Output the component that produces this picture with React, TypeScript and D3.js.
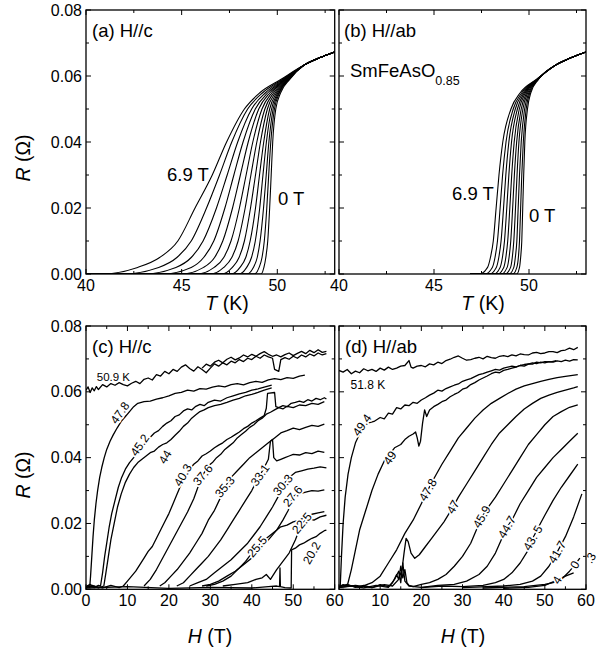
import React from 'react';
import * as d3 from 'd3';

// ---------- data: panels (a),(b)  R(T) curves, T read at fixed R levels ----------
const R_LEVELS = [0, 0.002, 0.005, 0.01, 0.02, 0.03, 0.04, 0.05, 0.055, 0.059];
// H//c, fields 0 T ... 6.9 T ; T (K) at each R level (first value = onset)
const A_T = [
  [49.15, 49.3, 49.4, 49.5, 49.6, 49.68, 49.76, 49.92, 50.18, 50.65],
  [48.8, 49.05, 49.2, 49.32, 49.45, 49.55, 49.66, 49.85, 50.12, 50.62],
  [48.4, 48.75, 48.95, 49.1, 49.28, 49.42, 49.56, 49.78, 50.08, 50.6],
  [48.0, 48.4, 48.65, 48.85, 49.08, 49.25, 49.43, 49.7, 50.03, 50.57],
  [47.6, 48.05, 48.35, 48.58, 48.86, 49.07, 49.29, 49.6, 49.97, 50.55],
  [47.1, 47.65, 48.0, 48.28, 48.6, 48.86, 49.12, 49.48, 49.9, 50.52],
  [46.5, 47.2, 47.62, 47.95, 48.32, 48.62, 48.93, 49.35, 49.82, 50.48],
  [45.8, 46.7, 47.2, 47.58, 48.02, 48.37, 48.72, 49.2, 49.73, 50.45],
  [45.0, 46.15, 46.72, 47.15, 47.66, 48.07, 48.48, 49.03, 49.63, 50.42],
  [44.0, 45.5, 46.15, 46.68, 47.26, 47.73, 48.21, 48.85, 49.52, 50.38],
  [43.0, 44.7, 45.5, 46.12, 46.82, 47.38, 47.93, 48.66, 49.4, 50.33],
  [41.9, 43.8, 44.75, 45.5, 46.3, 46.98, 47.62, 48.45, 49.25, 50.28],
  [40.8, 42.7, 43.85, 44.8, 45.7, 46.6, 47.35, 48.28, 49.1, 50.2],
];
const A_TAIL = [[51.4, 0.0633], [52.2, 0.0655], [53, 0.0673]];
// H//ab
const B_T = [
  [49.35, 49.5, 49.56, 49.62, 49.67, 49.72, 49.78, 49.92, 50.1, 50.5],
  [49.15, 49.36, 49.44, 49.5, 49.56, 49.62, 49.7, 49.85, 50.05, 50.49],
  [48.95, 49.2, 49.28, 49.36, 49.43, 49.5, 49.59, 49.77, 50.0, 50.48],
  [48.75, 49.03, 49.12, 49.2, 49.29, 49.37, 49.47, 49.68, 49.94, 50.47],
  [48.55, 48.85, 48.95, 49.04, 49.14, 49.23, 49.35, 49.59, 49.88, 50.46],
  [48.35, 48.67, 48.78, 48.88, 48.99, 49.09, 49.22, 49.49, 49.82, 50.45],
  [48.15, 48.48, 48.6, 48.71, 48.83, 48.94, 49.08, 49.39, 49.76, 50.44],
  [47.92, 48.28, 48.41, 48.53, 48.66, 48.78, 48.94, 49.28, 49.7, 50.43],
  [47.68, 48.07, 48.21, 48.34, 48.48, 48.61, 48.79, 49.17, 49.63, 50.42],
  [47.4, 47.82, 47.97, 48.12, 48.27, 48.42, 48.62, 49.05, 49.55, 50.4],
];
const B_START = 46.9;
const B_TAIL = [[51.4, 0.0633], [52.2, 0.0655], [53, 0.0673]];

// ---------- data: panel (c) H//c, R(H) at fixed T ----------
const C_509a = [[0,0.0605],[0.5,0.0615],[1,0.0598],[1.5,0.0612],[2,0.0603],[2.5,0.0616],[3,0.0607],[4,0.0622],[5,0.0615],[6,0.0625],[7,0.062],[8,0.0628],[9,0.0622],[10,0.0618],[11,0.0626],[12,0.0632],[13,0.0625],[14,0.0638],[15,0.0642],[16,0.0636],[17,0.0652],[18,0.0648],[19,0.0662],[20,0.0655],[21,0.0668],[22,0.0662],[23,0.0675],[24,0.0682],[25,0.0671],[26,0.0663],[27,0.0676],[28,0.0668],[29,0.0658],[30,0.0672],[31,0.0685],[32,0.0678],[33,0.0688],[34,0.0682],[35,0.0693],[36,0.0688],[37,0.0698],[38,0.0692],[39,0.0702],[40,0.0698],[41,0.0708],[42,0.0702],[43,0.0712],[44,0.0706],[45,0.0702],[45.5,0.0668],[46.5,0.0662],[47,0.0698],[48,0.0704],[49,0.0699],[50,0.0708],[51,0.0702],[52,0.0712],[53,0.0706],[54,0.0715],[55,0.0709],[56,0.0718],[57,0.0712],[58,0.0716]];
const C_509b = [[28,0.0672],[29,0.0684],[30,0.0678],[31,0.069],[32,0.0696],[33,0.0688],[34,0.0699],[35,0.0705],[36,0.0697],[37,0.0703],[38,0.0712],[39,0.0706],[40,0.0714],[41,0.0708],[42,0.0716],[43,0.0722],[44,0.0714],[45,0.0708],[46,0.0712],[47,0.0706],[48,0.0713],[49,0.0718],[50,0.071],[51,0.0717],[52,0.0723],[53,0.0716],[54,0.0726],[55,0.0719],[56,0.0728],[57,0.072],[58,0.0723]];
const C_478 = [[0,0.0005],[0.5,0.0012],[0.9,0.0006],[1.1,0.004],[1.4,0.01],[1.7,0.016],[2,0.021],[2.4,0.026],[2.8,0.03],[3.3,0.034],[3.8,0.037],[4.4,0.04],[5,0.0425],[5.8,0.045],[6.6,0.047],[7.5,0.049],[8.5,0.051],[9.5,0.0525],[10.5,0.054],[11.5,0.0555],[12.5,0.0565],[14,0.057],[15.5,0.0572],[17,0.0578],[18.5,0.0582],[20,0.0588],[21.5,0.0595],[23,0.0598],[24.5,0.0605],[26,0.0602],[27.5,0.061],[29,0.0608],[30.5,0.0614],[32,0.0618],[33.5,0.0615],[35,0.0622],[36.5,0.0625],[38,0.0621],[39.5,0.0628],[41,0.0632],[42.5,0.0629],[44,0.0636],[45.5,0.064],[47,0.0637],[48.5,0.0643],[50,0.0641],[51.5,0.0648],[52.8,0.0651]];
const C_452 = [[0,0.0008],[1,0.0015],[2,0.0005],[3,0.0012],[3.5,0.001],[4,0.005],[4.5,0.01],[5,0.014],[5.6,0.019],[6.2,0.023],[7,0.027],[7.8,0.031],[8.6,0.034],[9.5,0.0365],[10.5,0.0385],[11.5,0.04],[12.5,0.0415],[13.5,0.0435],[14.5,0.045],[15.5,0.0462],[16.5,0.0475],[17.5,0.0482],[18.5,0.0495],[19.5,0.0505],[20.5,0.0512],[21.5,0.0525],[22.5,0.053],[23.5,0.0542],[24.5,0.0548],[25.5,0.0545],[26.5,0.0556],[27.5,0.0562],[28.5,0.0558],[29.5,0.0568],[31,0.0575],[32.5,0.0572],[34,0.0582],[35.5,0.0588],[37,0.0594],[38.5,0.0598],[40,0.0605],[41.5,0.0609],[43,0.0614],[44.8,0.062]];
const C_440 = [[0,0.0005],[1.5,0.0012],[3,0.0004],[4.3,0.001],[4.8,0.005],[5.4,0.01],[6,0.015],[6.8,0.02],[7.6,0.025],[8.5,0.029],[9.5,0.0325],[10.5,0.035],[11.5,0.037],[12.5,0.0385],[13.5,0.0395],[14.5,0.0405],[15.5,0.0415],[16.5,0.042],[17.5,0.0432],[18.5,0.044],[19.5,0.0445],[20.5,0.0455],[21.5,0.0468],[22.5,0.048],[23.5,0.0495],[24.5,0.0505],[25.5,0.052],[26.5,0.053],[27.5,0.054],[28.5,0.0545],[29.5,0.0552],[31,0.0558],[32.5,0.0562],[34,0.0568],[35.5,0.0575],[37,0.058],[38.5,0.0588],[40,0.0592],[41.5,0.0598],[43,0.0605],[44.8,0.0612]];
const C_403 = [[0,0.0006],[2,0.001],[4,0.0004],[6,0.0012],[8,0.0005],[9,0.001],[10,0.0025],[11,0.004],[12,0.0055],[13,0.0075],[14,0.0095],[15,0.0115],[16,0.013],[17,0.0155],[18,0.018],[19,0.0205],[20,0.023],[21,0.026],[22,0.029],[23,0.032],[24,0.0345],[25,0.0365],[26,0.038],[27,0.039],[28,0.0405],[29,0.0412],[30,0.042],[31,0.043],[32,0.0438],[33,0.0445],[34,0.0455],[35,0.0462],[36,0.047],[37,0.0478],[38,0.0488],[39,0.0495],[40,0.0505],[41,0.0512],[42,0.052],[43,0.0528],[43.5,0.055],[43.8,0.0595],[45.5,0.0598],[45.8,0.0555],[46.5,0.0552],[47.5,0.0558],[48.5,0.0555],[49.5,0.0565],[50.5,0.0568],[51.5,0.0572],[52.5,0.0568],[53.5,0.0576],[54.5,0.0572],[55.5,0.058],[56.5,0.0576],[57.5,0.0582],[58,0.0578]];
const C_376 = [[14,0.001],[15.5,0.003],[17,0.006],[18.5,0.0095],[20,0.013],[21.5,0.0165],[23,0.02],[24.5,0.0235],[26,0.0275],[27,0.031],[28.3,0.035],[29.5,0.0375],[30.5,0.0385],[31.5,0.04],[32.5,0.041],[33.5,0.0425],[34.5,0.0435],[35.5,0.0445],[36.5,0.046],[37.5,0.047],[38.5,0.048],[39.5,0.0492],[40.5,0.05],[41.5,0.0512],[42.5,0.052],[43.5,0.0532],[44.5,0.0538],[45.5,0.0545],[46.5,0.0552],[47.5,0.0548],[48.5,0.0556],[50,0.0552],[51.5,0.056],[53,0.0558],[54.5,0.0565],[56,0.0562],[57.5,0.057]];
const C_353 = [[17.8,0.001],[19,0.002],[20.5,0.004],[22,0.006],[23.5,0.0085],[25,0.011],[26.5,0.014],[28,0.017],[29.5,0.021],[31,0.024],[32.5,0.028],[33.5,0.031],[35,0.034],[36.5,0.036],[38,0.038],[39.5,0.04],[41,0.0415],[42.5,0.043],[44,0.0445],[45.5,0.046],[47,0.0475],[48.5,0.0482],[50,0.049],[51.5,0.0485],[53,0.0492],[54.5,0.0498],[56,0.0495],[57.5,0.0502]];
const C_331 = [[21.9,0.001],[23.5,0.002],[25,0.004],[26.5,0.006],[28,0.008],[29.5,0.01],[31,0.0125],[32.5,0.015],[34,0.018],[35.5,0.021],[37,0.024],[38.5,0.027],[40,0.03],[41,0.0325],[42,0.0347],[43,0.037],[44,0.0395],[44.5,0.045],[45,0.0455],[45.3,0.04],[46,0.039],[47,0.0395],[48,0.04],[49,0.0405],[50,0.041],[51.5,0.0408],[53,0.0415],[54.5,0.0412],[56,0.042],[57.5,0.0416]];
const C_303 = [[25,0.001],[27,0.002],[29,0.003],[31,0.005],[33,0.007],[35,0.009],[37,0.0115],[39,0.014],[40.5,0.0165],[42,0.019],[43.5,0.022],[45,0.025],[46.3,0.028],[47.5,0.0317],[49,0.034],[50.5,0.0355],[52,0.036],[53.5,0.0365],[55,0.0368],[56.5,0.0372],[58,0.0369]];
const C_276 = [[28,0.001],[30,0.0015],[32,0.0025],[34,0.004],[36,0.0055],[38,0.0075],[40,0.0095],[42,0.012],[44,0.015],[46,0.018],[47.5,0.021],[48.8,0.024],[49.9,0.0283],[51.5,0.029],[53,0.0295],[54.5,0.03],[56,0.0298],[57.5,0.0302]];
const C_255 = [[29,0.001],[31,0.0015],[33,0.0025],[35,0.004],[37,0.0065],[38.5,0.0085],[40,0.011],[41.3,0.0129],[42.5,0.0145],[44,0.016],[45.5,0.0175],[47,0.019],[48.5,0.0195],[50,0.0205],[51.5,0.021],[53,0.022],[54.5,0.0228],[56,0.0232],[57.5,0.0236]];
const C_225 = [[33,0.001],[36,0.0015],[39,0.002],[41,0.003],[42.5,0.0035],[43.5,0.0045],[44.5,0.003],[46,0.006],[47.5,0.0085],[49,0.011],[50.5,0.015],[52.1,0.0201],[53.5,0.0215],[55,0.021],[56.5,0.022],[58,0.0225]];
const C_202 = [[0,0.0004],[10,0.0008],[20,0.0003],[30,0.0006],[40,0.0004],[44,0.0008],[46,0.001],[46.7,0.0008],[46.8,0.0065],[46.9,0.0008],[48,0.0005],[49.5,0.0004],[49.6,0.012],[50.5,0.0125],[51.5,0.0135],[52.5,0.014],[53.5,0.0148],[54.5,0.0155],[55.5,0.016],[56.5,0.017],[57.5,0.0178],[58,0.018]];
const C_CURVES = [C_509a, C_509b, C_478, C_452, C_440, C_403, C_376, C_353, C_331, C_303, C_276, C_255, C_225, C_202];
const C_LABELS = [
  { t: '47.8', h: 8.2, r: 0.0536, a: -55 },
  { t: '45.2', h: 13.0, r: 0.0438, a: -55 },
  { t: '44', h: 19.1, r: 0.0402, a: -60 },
  { t: '40.3', h: 23.4, r: 0.0347, a: -60 },
  { t: '37.6', h: 28.2, r: 0.0347, a: -50 },
  { t: '35.3', h: 33.5, r: 0.0311, a: -50 },
  { t: '33.1', h: 42.0, r: 0.0347, a: -55 },
  { t: '30.3', h: 47.5, r: 0.0317, a: -50 },
  { t: '27.6', h: 49.9, r: 0.0283, a: -50 },
  { t: '25.5', h: 41.3, r: 0.0129, a: -50 },
  { t: '22.5', h: 52.1, r: 0.0201, a: -50 },
  { t: '20.2', h: 54.5, r: 0.011, a: -60 },
];

// ---------- data: panel (d) H//ab ----------
const D_518 = [[0,0.0665],[1,0.066],[2,0.0668],[3,0.0655],[4,0.0663],[5,0.0658],[6,0.067],[7,0.0664],[8,0.0668],[9,0.0662],[10,0.0672],[11,0.0666],[12,0.0675],[13,0.0668],[14,0.0672],[15,0.0678],[16,0.068],[17,0.0695],[17.5,0.0675],[18,0.0672],[19,0.0678],[20,0.068],[21,0.0676],[22,0.0685],[23,0.0682],[24,0.069],[25,0.0686],[26,0.0695],[27,0.0699],[28,0.0705],[29,0.0709],[30,0.0702],[31,0.0696],[32,0.0698],[33,0.0702],[34,0.0705],[35,0.07],[36,0.0708],[37,0.0704],[38,0.0702],[39,0.0708],[40,0.071],[41,0.0707],[42,0.0712],[43,0.0709],[44,0.0715],[45,0.0713],[46,0.0712],[47,0.0718],[48,0.072],[49,0.0716],[50,0.0718],[51,0.0722],[52,0.0722],[53,0.0719],[54,0.0725],[55,0.0727],[56,0.0733],[57,0.0728],[58,0.0735]];
const D_494 = [[0,0.0005],[0.3,0.001],[0.6,0.01],[1,0.02],[1.5,0.028],[2.2,0.035],[3,0.04],[4,0.0445],[5.6,0.0488],[7,0.0505],[8.5,0.051],[10,0.0522],[11,0.0518],[12,0.0535],[13,0.0532],[14,0.0552],[15,0.0548],[16,0.056],[17,0.0558],[18,0.0568],[19,0.0565],[20,0.0575],[21,0.0582],[22,0.059],[23,0.0596],[24,0.0605],[25,0.0602],[26,0.061],[27,0.0615],[28,0.062],[29,0.0624],[30,0.0632],[31,0.0636],[32,0.064],[33,0.0646],[34,0.0652],[35,0.0655],[36,0.066],[37,0.0664],[38,0.0668],[39,0.0666],[40,0.0672],[41,0.0675],[42,0.0678],[43,0.0676],[44,0.068],[45,0.0683],[46,0.0685],[47,0.0684],[48,0.069],[49,0.0688],[50,0.0692],[51.5,0.0691],[52.8,0.0695]];
const D_490 = [[0,0.0008],[1,0.0014],[2,0.001],[3,0.006],[4,0.012],[5,0.018],[6.5,0.024],[8,0.03],[9.5,0.035],[11,0.039],[12.4,0.0412],[13.5,0.043],[15,0.044],[16,0.0455],[17,0.0465],[18,0.0472],[18.6,0.0478],[19,0.046],[19.4,0.0435],[19.8,0.045],[20.3,0.0505],[20.8,0.0545],[21.3,0.0525],[22,0.0545],[23,0.0555],[24,0.0562],[25,0.057],[26,0.0575],[27,0.0585],[28,0.0592],[29,0.0598],[30,0.0608],[31,0.0612],[32,0.0622],[33,0.0628],[34,0.0636],[35,0.0642],[36,0.0648],[37,0.0655],[38,0.066],[39,0.0658],[40,0.0665],[41,0.0668],[42,0.0672],[43,0.0675],[44,0.068],[45,0.0678],[46,0.0684],[47,0.0688],[48,0.0686],[49,0.069],[50,0.0688],[51,0.0692],[52,0.069],[53,0.0694],[54,0.0692],[55,0.0696],[56,0.0693],[57,0.0698],[58,0.0697]];
const D_478 = [[0,0.0008],[2,0.0013],[5,0.0006],[8,0.002],[10,0.004],[12,0.008],[14,0.012],[16,0.017],[18,0.021],[20,0.026],[21.6,0.0302],[23,0.0335],[25,0.038],[27,0.042],[29,0.046],[31,0.049],[33,0.052],[35,0.0545],[37,0.0565],[39,0.058],[41,0.0595],[43,0.0608],[45,0.0618],[47,0.0625],[49,0.0632],[51,0.0638],[53,0.0643],[55,0.0647],[58,0.0652]];
const D_470 = [[0,0.0006],[4,0.0012],[8,0.0005],[11,0.0014],[13,0.001],[14.5,0.003],[15.3,0.006],[15.8,0.011],[16.3,0.0155],[16.8,0.0145],[17.5,0.011],[18.4,0.0094],[19.5,0.0105],[21,0.013],[22.5,0.0155],[24,0.018],[25.5,0.0205],[27.7,0.025],[29,0.028],[31,0.032],[33,0.036],[35,0.04],[37,0.044],[39,0.0475],[41,0.05],[43,0.0525],[45,0.0548],[47,0.0565],[49,0.058],[51,0.059],[53,0.0598],[55,0.0605],[57,0.0612],[58,0.0616]];
const D_459 = [[0,0.0008],[2,0.0015],[4,0.0006],[6,0.0012],[8,0.0005],[10,0.0014],[12,0.0008],[13,0.002],[14,0.0045],[14.5,0.003],[15,0.007],[15.5,0.0035],[16,0.006],[16.5,0.002],[17,0.0012],[18,0.0008],[20,0.0015],[22,0.002],[24,0.003],[26,0.0045],[28,0.007],[30,0.01],[32,0.014],[34.7,0.022],[36,0.0245],[38,0.028],[40,0.032],[42,0.036],[44,0.04],[46,0.044],[48,0.047],[50,0.05],[52,0.0525],[54,0.054],[56,0.0553],[58,0.056]];
const D_447 = [[0,0.0005],[3,0.001],[6,0.0004],[9,0.0012],[12,0.0006],[13.5,0.003],[14.5,0.0055],[15,0.002],[15.5,0.008],[16,0.0025],[17,0.001],[20,0.0006],[24,0.0012],[28,0.0015],[31,0.0025],[34,0.0045],[36,0.007],[38,0.011],[40.8,0.0189],[42,0.021],[44,0.026],[46,0.03],[48,0.034],[50,0.037],[52,0.04],[54,0.0425],[56,0.045],[58,0.0474]];
const D_435 = [[20,0.0005],[25,0.001],[30,0.0008],[35,0.0012],[38,0.002],[40,0.003],[42,0.005],[44,0.008],[46,0.012],[47.1,0.0156],[48.5,0.019],[50,0.0225],[52,0.027],[54,0.031],[56,0.0345],[58,0.038]];
const D_417 = [[30,0.0005],[40,0.001],[44,0.0015],[47,0.0025],[49,0.004],[51,0.007],[53,0.0113],[55,0.016],[57,0.022],[59,0.029]];
const D_40 = [[35,0.0004],[45,0.0008],[50,0.0015],[52,0.002],[54,0.003],[56,0.0055],[57.3,0.0074],[58.5,0.0095]];
const D_4x = [[40,0.0003],[46,0.0006],[50,0.0012],[53,0.0028],[55,0.004],[57,0.005]];
const D_CURVES = [D_518, D_494, D_490, D_478, D_470, D_459, D_447, D_435, D_417, D_40, D_4x];
const D_LABELS = [
  { t: '49.4', h: 5.6, r: 0.0499, a: -55 },
  { t: '49', h: 12.4, r: 0.0399, a: -55 },
  { t: '47.8', h: 21.6, r: 0.0302, a: -60 },
  { t: '47', h: 27.7, r: 0.025, a: -60 },
  { t: '45.9', h: 34.7, r: 0.022, a: -60 },
  { t: '44.7', h: 40.8, r: 0.0189, a: -60 },
  { t: '43. 5', h: 47.1, r: 0.0156, a: -60 },
  { t: '41.7', h: 53.0, r: 0.0113, a: -60 },
  { t: '0', h: 57.3, r: 0.0074, a: -60 },
  { t: '4', h: 53.0, r: 0.0028, a: -60 },
  { t: '.3', h: 61.1, r: 0.0095, a: -60 },
];

const Y_MAJOR = [0, 0.02, 0.04, 0.06, 0.08];
const Y_MINOR = [0.01, 0.03, 0.05, 0.07];
const T_MAJOR = [40, 45, 50];
const T_MINOR = [42.5, 47.5, 52.5];
const H_MAJOR = [0, 10, 20, 30, 40, 50, 60];
const H_MAJOR_D_LABELS = [10, 20, 30, 40, 50, 60];
const H_MINOR = [5, 15, 25, 35, 45, 55];

const FONT = "'Liberation Sans', Arial, Helvetica, sans-serif";

type Frame = { x0: number; x1: number; y0: number; y1: number };
const FA: Frame = { x0: 86, x1: 334.7, y0: 10, y1: 274 };
const FB: Frame = { x0: 339, x1: 586, y0: 10, y1: 274 };
const FC: Frame = { x0: 86, x1: 334.7, y0: 326, y1: 589.3 };
const FD: Frame = { x0: 339, x1: 586, y0: 326, y1: 589.3 };

function Frame({ f, xs, ys, xMaj, xMin, xLab, yLabels }: any) {
  const maj = 5, min = 3;
  const els: any[] = [];
  xMaj.forEach((v: number, i: number) => {
    const x = xs(v);
    els.push(<line key={'xb' + i} x1={x} x2={x} y1={f.y1} y2={f.y1 - maj} />);
    els.push(<line key={'xt' + i} x1={x} x2={x} y1={f.y0} y2={f.y0 + maj} />);
  });
  xMin.forEach((v: number, i: number) => {
    const x = xs(v);
    els.push(<line key={'xbm' + i} x1={x} x2={x} y1={f.y1} y2={f.y1 - min} />);
    els.push(<line key={'xtm' + i} x1={x} x2={x} y1={f.y0} y2={f.y0 + min} />);
  });
  Y_MAJOR.forEach((v, i) => {
    const y = ys(v);
    els.push(<line key={'yl' + i} x1={f.x0} x2={f.x0 + maj} y1={y} y2={y} />);
    els.push(<line key={'yr' + i} x1={f.x1} x2={f.x1 - maj} y1={y} y2={y} />);
  });
  Y_MINOR.forEach((v, i) => {
    const y = ys(v);
    els.push(<line key={'ylm' + i} x1={f.x0} x2={f.x0 + min} y1={y} y2={y} />);
    els.push(<line key={'yrm' + i} x1={f.x1} x2={f.x1 - min} y1={y} y2={y} />);
  });
  return (
    <g>
      <rect x={f.x0} y={f.y0} width={f.x1 - f.x0} height={f.y1 - f.y0} fill="none" stroke="#000" strokeWidth={1.3} />
      <g stroke="#000" strokeWidth={1}>{els}</g>
      <g fontFamily={FONT} fontSize={16} fill="#000">
        {xLab.map((v: number, i: number) => (
          <text key={'xl' + i} x={xs(v)} y={f.y1 + 17} textAnchor="middle">{String(v)}</text>
        ))}
        {yLabels && Y_MAJOR.map((v, i) => (
          <text key={'yll' + i} x={f.x0 - 4} y={ys(v) + 5.5} textAnchor="end">{v.toFixed(2)}</text>
        ))}
      </g>
    </g>
  );
}

function levelCurve(row: number[], start: number | null, tail: number[][]) {
  const pts: number[][] = [];
  if (start !== null) pts.push([start, 0]);
  row.forEach((t, i) => pts.push([t, R_LEVELS[i]]));
  tail.forEach(p => pts.push(p));
  return pts;
}

export default function App() {
  const ys = (f: Frame) => d3.scaleLinear().domain([0, 0.08]).range([f.y1, f.y0]);
  const xa = d3.scaleLinear().domain([40, 53]).range([FA.x0, FA.x1]);
  const xb = d3.scaleLinear().domain([40, 53]).range([FB.x0, FB.x1]);
  const xc = d3.scaleLinear().domain([0, 60]).range([FC.x0, FC.x1]);
  const xd = d3.scaleLinear().domain([0, 60]).range([FD.x0, FD.x1]);
  const ya = ys(FA), yb = ys(FB), yc = ys(FC), yd = ys(FD);

  const lineA = d3.line<number[]>().x(d => xa(d[0])).y(d => ya(d[1])).curve(d3.curveMonotoneX);
  const lineB = d3.line<number[]>().x(d => xb(d[0])).y(d => yb(d[1])).curve(d3.curveMonotoneX);
  const lineC = d3.line<number[]>().x(d => xc(d[0])).y(d => yc(d[1]));
  const lineD = d3.line<number[]>().x(d => xd(d[0])).y(d => yd(d[1]));

  const labelStyle: any = { fontFamily: FONT, fontSize: 12, fill: '#000', stroke: '#fff', strokeWidth: 3.5, paintOrder: 'stroke', strokeLinejoin: 'round' };
  const big = { fontFamily: FONT, fontSize: 18.5, fill: '#000' } as any;
  const title = { fontFamily: FONT, fontSize: 19.5, fill: '#000' } as any;

  const clip = (id: string, f: Frame) => (
    <clipPath id={id}><rect x={f.x0} y={f.y0} width={f.x1 - f.x0} height={f.y1 - f.y0} /></clipPath>
  );

  return (
    <svg width={598} height={655} style={{ position: 'absolute', left: 0, top: 0, background: '#fff' }}>
      <defs>
        {clip('ca', FA)}{clip('cb', FB)}{clip('cc', FC)}{clip('cd', FD)}
      </defs>
      <rect x={0} y={0} width={598} height={655} fill="#fff" />

      <g clipPath="url(#ca)" fill="none" stroke="#000" strokeWidth={1.1}>
        {A_T.map((row, i) => <path key={i} d={lineA(levelCurve(row, 40, A_TAIL)) || ''} />)}
      </g>
      <g clipPath="url(#cb)" fill="none" stroke="#000" strokeWidth={1.1}>
        {B_T.map((row, i) => <path key={i} d={lineB(levelCurve(row, B_START, B_TAIL)) || ''} />)}
      </g>
      <g clipPath="url(#cc)" fill="none" stroke="#000" strokeWidth={1.3} strokeLinejoin="round">
        {C_CURVES.map((c, i) => <path key={i} d={lineC(c as any) || ''} />)}
      </g>
      <g>
        {C_LABELS.map((l, i) => (
          <text key={i} {...labelStyle} textAnchor="middle" dominantBaseline="central"
            transform={`translate(${xc(l.h)},${yc(l.r)}) rotate(${l.a})`}>{l.t}</text>
        ))}
        <text {...labelStyle} fontSize={11.5} x={xc(2.6)} y={yc(0.0634)}>50.9 K</text>
      </g>
      <g clipPath="url(#cd)" fill="none" stroke="#000" strokeWidth={1.3} strokeLinejoin="round">
        {D_CURVES.map((c, i) => <path key={i} d={lineD(c as any) || ''} />)}
      </g>
      <g>
        {D_LABELS.map((l, i) => (
          <text key={i} {...labelStyle} textAnchor="middle" dominantBaseline="central"
            transform={`translate(${xd(l.h)},${yd(l.r)}) rotate(${l.a})`}>{l.t}</text>
        ))}
        <text {...labelStyle} x={xd(2.8)} y={yd(0.061)}>51.8 K</text>
      </g>

      <Frame f={FA} xs={xa} ys={ya} xMaj={T_MAJOR} xMin={T_MINOR} xLab={T_MAJOR} yLabels />
      <Frame f={FB} xs={xb} ys={yb} xMaj={T_MAJOR} xMin={T_MINOR} xLab={T_MAJOR} yLabels={false} />
      <Frame f={FC} xs={xc} ys={yc} xMaj={H_MAJOR} xMin={H_MINOR} xLab={H_MAJOR} yLabels />
      <Frame f={FD} xs={xd} ys={yd} xMaj={H_MAJOR} xMin={H_MINOR} xLab={H_MAJOR_D_LABELS} yLabels={false} />

      <text {...big} x={92} y={37}>(a) H//c</text>
      <text {...big} x={344} y={37}>(b) H//ab</text>
      <text {...big} x={92} y={353}>(c) H//c</text>
      <text {...big} x={345} y={353}>(d) H//ab</text>
      <text {...big} x={350} y={77}>SmFeAsO<tspan fontSize={12.5} dy={8}>0.85</tspan></text>
      <text {...big} x={167} y={181}>6.9 T</text>
      <text {...big} x={278} y={205}>0 T</text>
      <text {...big} x={452} y={200}>6.9 T</text>
      <text {...big} x={529} y={222}>0 T</text>

      <text {...title} x={227} y={310} textAnchor="middle"><tspan fontStyle="italic">T</tspan> (K)</text>
      <text {...title} x={483} y={310} textAnchor="middle"><tspan fontStyle="italic">T</tspan> (K)</text>
      <text {...title} x={210} y={643} textAnchor="middle"><tspan fontStyle="italic">H</tspan> (T)</text>
      <text {...title} x={463} y={643} textAnchor="middle"><tspan fontStyle="italic">H</tspan> (T)</text>
      <text {...title} transform="translate(30,158) rotate(-90)" textAnchor="middle"><tspan fontStyle="italic">R</tspan> (Ω)</text>
      <text {...title} transform="translate(30,475) rotate(-90)" textAnchor="middle"><tspan fontStyle="italic">R</tspan> (Ω)</text>
    </svg>
  );
}
